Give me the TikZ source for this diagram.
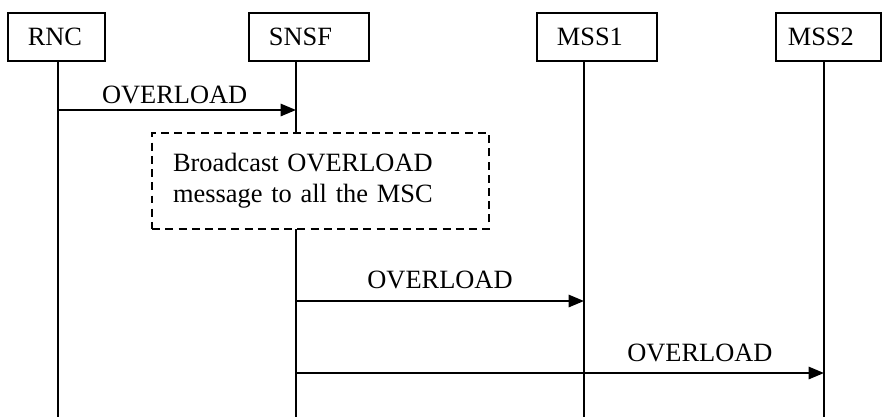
\documentclass[tikz,border=0pt]{standalone}
\usepackage{fontspec}
\setmainfont{Liberation Serif}
\usetikzlibrary{arrows.meta}

\tikzstyle{entityBox}=[draw, line width = 0.8pt, minimum height = 21.8pt, inner sep = 0pt, inner xsep = 9pt, align = left]
\tikzstyle{lifeLine}=[line width = 0.7pt]

\begin{document}
\begin{tikzpicture}[x = 0.4545pt, y = -0.4545pt, font = \fontsize{12}{14}\selectfont]
\tikzstyle{msgArrow}=[line width = 0.9pt, -{Triangle[length = 7pt, width = 5.6pt]}]
\tikzstyle{msgLabel}=[above, inner sep = 2.5pt]
\tikzstyle{noteBox}=[draw, line width = 0.8pt, dash pattern = on 3.6pt off 2.4pt, fill = white, text width = 134pt, inner sep = 0pt, inner xsep = 9.5pt, minimum height = 43.6pt, align = left]
\useasboundingbox (0,0) rectangle (883,417);
\node[entityBox, text width = 26.1pt] (rnc) at (56.5,37) {RNC};
\node[entityBox, text width = 36.5pt] (snsf) at (309,37) {SNSF};
\node[entityBox, text width = 36.5pt] (mss1) at (597,37) {MSS1};
\node[entityBox, text width = 37pt, inner xsep = 5.5pt] (mss2) at (828.5,37) {MSS2};
\coordinate (rncEnd) at (58,417);
\coordinate (snsfEnd) at (296,417);
\coordinate (mss1End) at (584,417);
\coordinate (mss2End) at (824,417);
\draw[lifeLine] (rncEnd |- rnc.south) -- (rncEnd);
\draw[lifeLine] (snsfEnd |- snsf.south) -- (snsfEnd);
\draw[lifeLine] (mss1End |- mss1.south) -- (mss1End);
\draw[lifeLine] (mss2End |- mss2.south) -- (mss2End);
\coordinate (m1) at (0,110);
\coordinate (m2) at (0,301);
\coordinate (m3) at (0,373);
\draw[msgArrow] (rncEnd |- m1) -- node[msgLabel, pos = 0.49] (l1) {OVERLOAD} (snsfEnd |- m1);
\node[noteBox] (note) at (320.5,181) {Broadcast OVERLOAD\\message to all the MSC};
\draw[msgArrow] (snsfEnd |- m2) -- node[msgLabel, yshift = 2.7pt] (l2) {OVERLOAD} (mss1End |- m2);
\draw[msgArrow] (snsfEnd |- m3) -- node[msgLabel, pos = 0.765, yshift = 2.2pt] (l3) {OVERLOAD} (mss2End |- m3);
\end{tikzpicture}
\end{document}
